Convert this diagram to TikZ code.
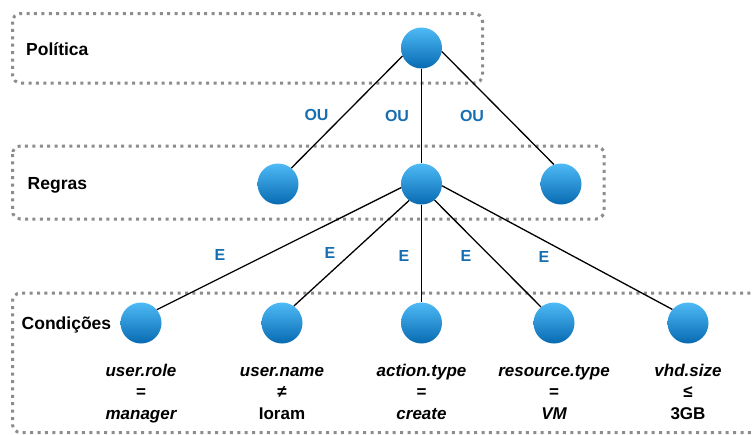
\documentclass[tikz,border=0pt]{standalone}
\usepackage{fontspec}
\setmainfont{Liberation Sans}
\definecolor{ballTop}{RGB}{78,186,246}
\definecolor{ballBot}{RGB}{8,106,178}
\definecolor{lblue}{RGB}{22,110,178}
\definecolor{dotgray}{RGB}{140,140,140}
\tikzset{
  ball/.style={circle, minimum size=41pt, inner sep=0pt, top color=ballTop, bottom color=ballBot, draw=none},
  grp/.style={draw=dotgray, line width=3pt, dash pattern=on 3pt off 4.4pt, rounded corners=8pt},
  conn/.style={line width=1.3pt, draw=black},
  oplbl/.style={text=lblue, font=\fontsize{16}{18}\selectfont\bfseries, inner sep=0pt},
  grplbl/.style={font=\fontsize{17.5}{20}\selectfont\bfseries, anchor=west, inner sep=0pt},
  condtxt/.style={font=\fontsize{17}{20}\selectfont\bfseries, anchor=base, inner sep=0pt},
}
\begin{document}
\begin{tikzpicture}[x=1pt,y=-1pt]
\useasboundingbox (0,0) rectangle (752,434);
% group boxes
\draw[grp] (12.5,13.5) rectangle (482.5,83);
\draw[grp] (12.5,146) rectangle (604,219);
\draw[grp] (780,293) -- (12.5,293) -- (12.5,432.5) -- (780,432.5);
% group labels
\node[grplbl] (lpol) at (26,49) {Política};
\node[grplbl] (lreg) at (27.5,185) {Regras};
\node[grplbl] (lcon) at (21.5,325) {Condições};
% nodes
\node[ball] (top) at (421.5,48) {};
\node[ball] (r1) at (278,184) {};
\node[ball] (r2) at (421.5,184) {};
\node[ball] (r3) at (561,184) {};
\node[ball] (c1) at (141,323) {};
\node[ball] (c2) at (282,323) {};
\node[ball] (c3) at (421.5,323) {};
\node[ball] (c4) at (554,323) {};
\node[ball] (c5) at (688,323) {};
% connectors
\draw[conn] (top.203) -- (r1.50);
\draw[conn] (top.south) -- (r2.north);
\draw[conn] (top.-10) -- (r3.110);
\draw[conn] (r2.190) -- (c1.40);
\draw[conn] (r2.233) -- (c2.55);
\draw[conn] (r2.south) -- (c3.north);
\draw[conn] (r2.-51) -- (c4.129);
\draw[conn] (r2.-5) -- (c5.139);
% operator labels
\node[oplbl] (ou1) at (316.5,115) {OU};
\node[oplbl] (ou2) at (397,115.5) {OU};
\node[oplbl] (ou3) at (472,115.5) {OU};
\node[oplbl] (e1) at (220,255) {E};
\node[oplbl] (e2) at (330,253) {E};
\node[oplbl] (e3) at (404,256) {E};
\node[oplbl] (e4) at (466,256) {E};
\node[oplbl] (e5) at (544,257) {E};
% condition texts
\node[condtxt] (t1a) at (141,376) {\itshape user.role};
\node[condtxt] (t1b) at (141,397.5) {=};
\node[condtxt] (t1c) at (141,419) {\itshape manager};
\node[condtxt] (t2a) at (282,376) {\itshape user.name};
\node[condtxt] (t2b) at (282,397.5) {≠};
\node[condtxt] (t2c) at (282,419) {Ioram};
\node[condtxt] (t3a) at (421.5,376) {\itshape action.type};
\node[condtxt] (t3b) at (421.5,397.5) {=};
\node[condtxt] (t3c) at (421.5,419) {\itshape create};
\node[condtxt] (t4a) at (554,376) {\itshape resource.type};
\node[condtxt] (t4b) at (554,397.5) {=};
\node[condtxt] (t4c) at (554,419) {\itshape VM};
\node[condtxt] (t5a) at (688,376) {\itshape vhd.size};
\node[condtxt] (t5b) at (688,397.5) {≤};
\node[condtxt] (t5c) at (688,419) {3GB};
\end{tikzpicture}
\end{document}
